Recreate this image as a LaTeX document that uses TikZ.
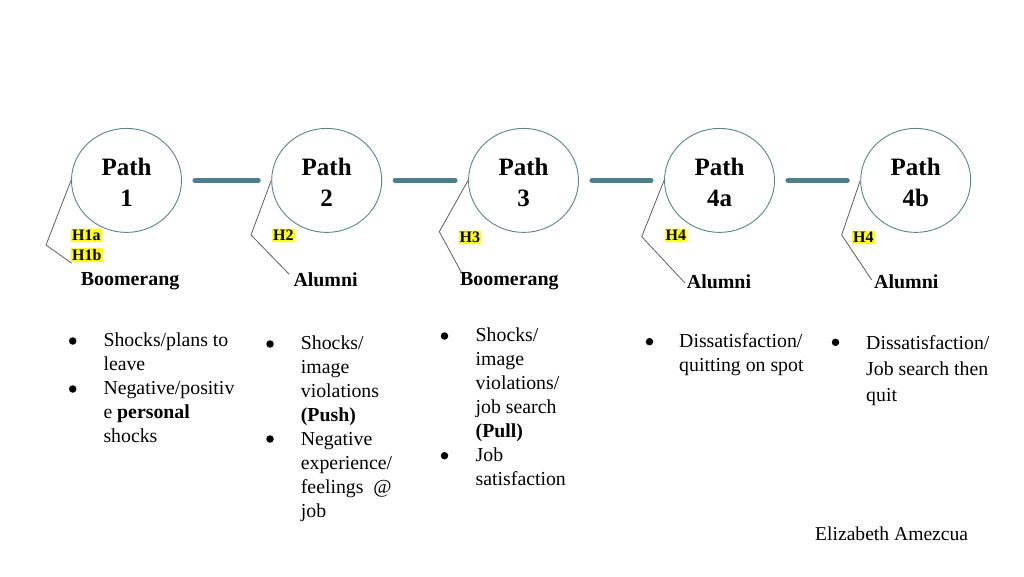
\documentclass[tikz,border=0pt]{standalone}
\usepackage{fontspec}
\setmainfont{Liberation Serif}
\usetikzlibrary{shapes.geometric}
\definecolor{ringc}{RGB}{82,136,142}
\definecolor{linkc}{RGB}{74,128,142}
\definecolor{brkc}{RGB}{95,95,95}
\definecolor{hl}{RGB}{255,255,0}
\begin{document}
\begin{tikzpicture}[x=1pt,y=-1pt,
  pathc/.style={ellipse, draw=ringc, line width=0.9pt, minimum width=110pt, minimum height=104pt, inner sep=0pt},
  ptxt/.style={anchor=base, inner sep=0pt, font=\fontsize{25}{28}\selectfont\bfseries},
  hyp/.style={anchor=base west, fill=hl, inner sep=1.2pt, font=\fontsize{16}{18}\selectfont\bfseries},
  grp/.style={anchor=base west, inner sep=0pt, font=\fontsize{19.9}{22}\selectfont\bfseries},
  body/.style={anchor=base west, inner sep=0pt, font=\fontsize{19.8}{22}\selectfont},
  dot/.style={circle, fill=black, inner sep=0pt, minimum size=7.5pt},
  linkl/.style={draw=linkc, line width=5pt, line cap=round, shorten <=13pt, shorten >=13pt},
  brace/.style={draw=brkc, line width=0.8pt}]
\useasboundingbox (0,0) rectangle (1024,576);
\fill[white] (0,0) rectangle (1024,576);

% circles
\node[pathc] (p1) at (126.5,180.4) {};
\node[pathc] (p2) at (326.7,180.4) {};
\node[pathc] (p3) at (523.5,180.4) {};
\node[pathc] (p4a) at (719.5,180.4) {};
\node[pathc] (p4b) at (915.7,180.4) {};

\node[ptxt] (t1) at (126.5,175) {Path};   \node[ptxt] (n1) at (126.5,206) {1};
\node[ptxt] (t2) at (326.7,175) {Path};   \node[ptxt] (n2) at (326.7,206) {2};
\node[ptxt] (t3) at (523.5,175) {Path};   \node[ptxt] (n3) at (523.5,206) {3};
\node[ptxt] (t4a) at (719.5,175) {Path};  \node[ptxt] (n4a) at (719.5,206) {4a};
\node[ptxt] (t4b) at (915.7,175) {Path};  \node[ptxt] (n4b) at (915.7,206) {4b};

% connectors
\draw[linkl] (p1.east) -- (p2.west);
\draw[linkl] (p2.east) -- (p3.west);
\draw[linkl] (p3.east) -- (p4a.west);
\draw[linkl] (p4a.east) -- (p4b.west);

% brackets
\coordinate (k1) at (46,245);    \coordinate (e1) at (71.7,263.3);
\coordinate (k2) at (251,235);   \coordinate (e2) at (289,274);
\coordinate (k3) at (439.3,231.7); \coordinate (e3) at (461.7,273);
\coordinate (k4a) at (641.7,236.7); \coordinate (e4a) at (685,283);
\coordinate (k4b) at (841.7,235); \coordinate (e4b) at (871.7,280);
\draw[brace] (p1.west) -- (k1) -- (e1);
\draw[brace] (p2.west) -- (k2) -- (e2);
\draw[brace] (p3.west) -- (k3) -- (e3);
\draw[brace] (p4a.west) -- (k4a) -- (e4a);
\draw[brace] (p4b.west) -- (k4b) -- (e4b);

% hypothesis tags
\node[hyp] (h1a) at (70.7,240.7) {H1a};
\node[hyp] (h1b) at (70.7,260.3) {H1b};
\node[hyp] (h2) at (271.7,240.7) {H2};
\node[hyp] (h3) at (458.3,242.7) {H3};
\node[hyp] (h4a) at (664.3,240.7) {H4};
\node[hyp] (h4b) at (851.7,242.7) {H4};

% group labels
\node[grp] (g1) at (80.7,285) {Boomerang};
\node[grp] (g2) at (293.3,286.7) {Alumni};
\node[grp] (g3) at (460,285.7) {Boomerang};
\node[grp] (g4a) at (686.7,288.3) {Alumni};
\node[grp] (g4b) at (874,288.3) {Alumni};

% bullets
\node[dot] (d1a) at (72.7,341) {};
\node[dot] (d1b) at (72.7,389) {};
\node[dot] (d2a) at (270,344) {};
\node[dot] (d2b) at (270,439) {};
\node[dot] (d3a) at (444.5,336) {};
\node[dot] (d3b) at (444.5,455.7) {};
\node[dot] (d4) at (649.5,341.7) {};
\node[dot] (d5) at (835.5,342.3) {};

% column 1
\foreach \y/\t [count=\i] in {346/{Shocks/plans to}, 370/{leave}, 394/{Negative/positiv}, 418/{e \textbf{personal}}, 442/{shocks}}
  \node[body] (ca\i) at (103.3,\y) {\t};
% column 2
\foreach \y/\t [count=\i] in {349/{Shocks/}, 373/{image}, 397/{violations}, 421/{\textbf{(Push)}}, 445/{Negative}, 469/{experience/}, 493/{feelings~~@}, 517/{job}}
  \node[body] (cb\i) at (300.7,\y) {\t};
% column 3
\foreach \y/\t [count=\i] in {341/{Shocks/}, 365/{image}, 389/{violations/}, 413/{job search}, 437/{\textbf{(Pull)}}, 461/{Job}, 485/{satisfaction}}
  \node[body] (cc\i) at (475.5,\y) {\t};
% column 4
\foreach \y/\t [count=\i] in {347.3/{Dissatisfaction/}, 371/{quitting on spot}}
  \node[body] (cd\i) at (679,\y) {\t};
% column 5
\foreach \y/\t [count=\i] in {349/{Dissatisfaction/}, 375/{Job search then}, 401/{quit}}
  \node[body] (ce\i) at (866,\y) {\t};

\node[anchor=base west, inner sep=0pt, font=\fontsize{19.6}{24}\selectfont] (auth) at (815,540.7) {Elizabeth Amezcua};
\end{tikzpicture}
\end{document}
